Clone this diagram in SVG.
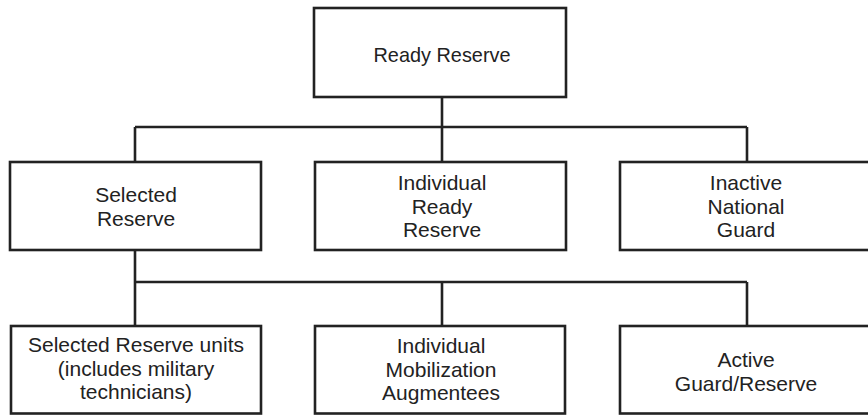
<svg xmlns="http://www.w3.org/2000/svg" width="868" height="415" viewBox="0 0 868 415">
<style>
.box{fill:#fff;stroke:#222;stroke-width:2.6}
.ln{fill:none;stroke:#222;stroke-width:2.6}
text{font-family:"Liberation Sans",Arial,sans-serif;font-size:21px;fill:#222;text-anchor:middle}
</style>
<rect width="868" height="415" fill="#fff"/>
<g id="connectors">
<path class="ln" d="M442 97 V127 M135 127 H747 M135 127 V162 M442 127 V162 M747 127 V162"/>
<path class="ln" d="M135 250 V282 M135 282 H747 M135 282 V326 M442 282 V326 M747 282 V326"/>
</g>
<g id="ready-reserve">
<rect class="box" x="314" y="8" width="252" height="89"/>
<text x="442" y="62" textLength="137" lengthAdjust="spacingAndGlyphs">Ready Reserve</text>
</g>
<g id="selected-reserve">
<rect class="box" x="10" y="162" width="251" height="88"/>
<text x="136" y="202">Selected</text>
<text x="136" y="225.5">Reserve</text>
</g>
<g id="individual-ready-reserve">
<rect class="box" x="315" y="162" width="251" height="88"/>
<text x="442" y="190">Individual</text>
<text x="442" y="213.5">Ready</text>
<text x="442" y="237">Reserve</text>
</g>
<g id="inactive-national-guard">
<rect class="box" x="620" y="162" width="252" height="88"/>
<text x="746" y="190">Inactive</text>
<text x="746" y="213.5">National</text>
<text x="746" y="237">Guard</text>
</g>
<g id="selected-reserve-units">
<rect class="box" x="11" y="326" width="250" height="87.5"/>
<text x="136" y="352">Selected Reserve units</text>
<text x="136" y="375.5">(includes military</text>
<text x="136" y="399">technicians)</text>
</g>
<g id="individual-mobilization-augmentees">
<rect class="box" x="315" y="326" width="250" height="87.5"/>
<text x="441" y="353">Individual</text>
<text x="441" y="376.5">Mobilization</text>
<text x="441" y="400">Augmentees</text>
</g>
<g id="active-guard-reserve">
<rect class="box" x="620" y="326" width="252" height="87.5"/>
<text x="746" y="367">Active</text>
<text x="746" y="390.5">Guard/Reserve</text>
</g>
</svg>
